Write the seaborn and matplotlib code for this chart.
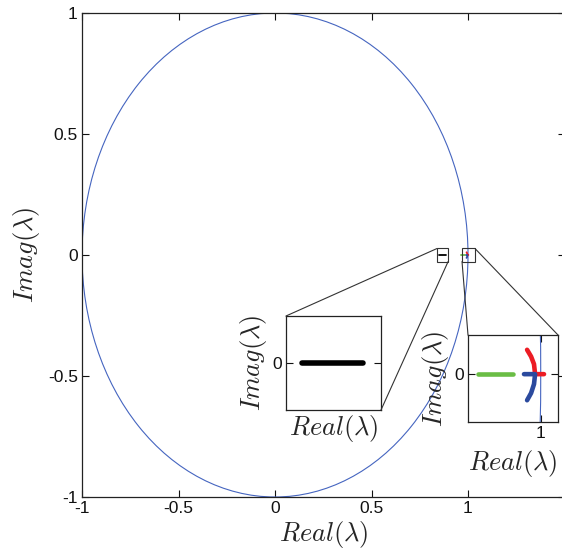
import numpy as np
import pandas as pd
import seaborn as sns
import matplotlib
matplotlib.use('Agg')
import matplotlib.pyplot as plt
from matplotlib.patches import Circle, Rectangle, ConnectionPatch

# main axes
main_ticks = [-1, -0.5, 0, 0.5, 1]
main_ticklabels = ['-1', '-0.5', '0', '0.5', '1']

# zoom boxes drawn on the main axes (data coords)
box1_x = [0.84, 0.897]
box1_y = [-0.027, 0.027]
box2_x = [0.969, 1.036]
box2_y = [-0.027, 0.027]

# inset limits
inset2_x = [0.96, 1.0095]
inset2_y = [-0.022, 0.018]

# eigenvalue tracks
black_re = [0.8497, 0.886]
black_im = [0.0, 0.0]
green_re = [0.9655, 0.985]
green_im = [0.0, 0.0]
red_re = [0.9925, 0.9947, 0.9963, 0.9969, 1.0018]
red_im = [0.0112, 0.0081, 0.0046, 0.0, 0.0]
blue_re = [0.9908, 0.9969, 0.9963, 0.9947, 0.9925]
blue_im = [0.0, 0.0, -0.0046, -0.0087, -0.0120]

circle_color = '#4565c0'
black_c = '#000000'
green_c = '#6abd45'
red_c = '#ec1c24'
blue_c = '#2b4a9e'

sns.set_style('ticks')
plt.rcParams['font.family'] = ['Liberation Sans', 'DejaVu Sans']
plt.rcParams['mathtext.fontset'] = 'cm'

fig = plt.figure(figsize=(5.62, 5.58), dpi=100)
W, H = 562.0, 558.0
ax = fig.add_axes([82 / W, 1 - 497 / H, (564.5 - 82) / W, (497 - 13) / H])


def style(a, size=12.5):
    a.tick_params(direction='in', length=5, width=0.8, top=True, right=True,
                  labelsize=size, colors='#111111', pad=3)
    for s in a.spines.values():
        s.set_color('#222222')
        s.set_linewidth(0.9)
        s.set_visible(True)


def tracks(a, lw):
    for re, im, c in [(black_re, black_im, black_c), (green_re, green_im, green_c),
                      (red_re, red_im, red_c), (blue_re, blue_im, blue_c)]:
        sns.lineplot(x=re, y=im, color=c, lw=lw, ax=a,
                     sort=False, estimator=None, solid_capstyle='round')


ax.add_patch(Circle((0, 0), 1, fill=False, color=circle_color, lw=0.8))
tracks(ax, 1.3)
ax.set_xlim(-1, 1.5)
ax.set_ylim(-1, 1)
ax.set_xticks(main_ticks)
ax.set_xticklabels(main_ticklabels)
ax.set_yticks(main_ticks)
ax.set_yticklabels(main_ticklabels)
style(ax)
ax.set_xlabel(r'$Real(\lambda)$', fontsize=19, labelpad=2)
ax.set_ylabel(r'$Imag(\lambda)$', fontsize=19, labelpad=4)

for bx, by in [(box1_x, box1_y), (box2_x, box2_y)]:
    ax.add_patch(Rectangle((bx[0], by[0]), bx[1] - bx[0], by[1] - by[0],
                           fill=False, ec='#333333', lw=0.8, zorder=5))

# inset 1
ax1 = fig.add_axes([286 / W, 1 - 410 / H, 95 / W, 94 / H])
tracks(ax1, 4)
ax1.set_xlim(*box1_x)
ax1.set_ylim(*box1_y)
ax1.set_xticks([])
ax1.set_yticks([0])
ax1.set_yticklabels(['0'])
style(ax1)
ax1.set_xlabel(r'$Real(\lambda)$', fontsize=19, labelpad=2)
ax1.set_ylabel(r'$Imag(\lambda)$', fontsize=19, labelpad=2)

# inset 2
ax2 = fig.add_axes([468 / W, 1 - 422 / H, 90 / W, 87 / H])
ax2.add_patch(Circle((0, 0), 1, fill=False, color=circle_color, lw=0.8))
tracks(ax2, 3.3)
ax2.set_xlim(*inset2_x)
ax2.set_ylim(*inset2_y)
ax2.set_xticks([1])
ax2.set_xticklabels(['1'])
ax2.set_yticks([0])
ax2.set_yticklabels(['0'])
style(ax2)
ax2.set_xlabel(r'$Real(\lambda)$', fontsize=19, labelpad=5)
ax2.set_ylabel(r'$Imag(\lambda)$', fontsize=19, labelpad=2)

# connectors
links = [
    (ax1, (0, 1), (box1_x[0], box1_y[1])),
    (ax1, (1, 0), (box1_x[1], box1_y[0])),
    (ax2, (0, 1), (box2_x[0], box2_y[0])),
    (ax2, (1, 1), (box2_x[1], box2_y[1])),
]
for a, corner, pt in links:
    con = ConnectionPatch(xyA=corner, coordsA=a.transAxes, xyB=pt, coordsB=ax.transData,
                          color='#333333', lw=0.8)
    fig.add_artist(con)

fig.savefig('out.png', dpi=100)
